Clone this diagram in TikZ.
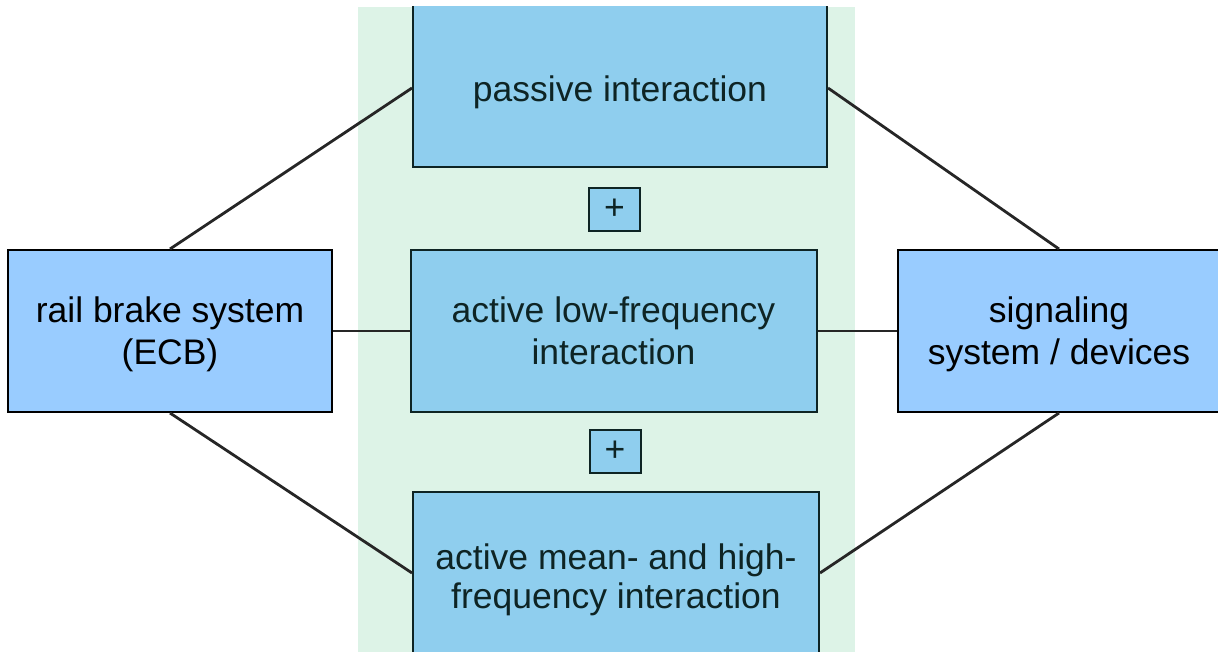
\documentclass[tikz,border=0pt]{standalone}
\usepackage{fontspec}
\setmainfont{Liberation Sans}
\usetikzlibrary{calc}
\definecolor{sidefill}{HTML}{99CCFF}
\definecolor{midfill}{HTML}{8FCEEE}
\definecolor{bandfill}{HTML}{DDF3E7}
\definecolor{midline}{HTML}{0E2424}
\begin{document}
\begin{tikzpicture}[x=1pt,y=-1pt,
  every node/.style={font=\fontsize{35.5}{42}\selectfont, align=center, inner sep=0pt},
  sidebox/.style={draw=black, line width=2pt, fill=sidefill, text=black, text depth=1.5pt},
  midbox/.style={draw=midline, line width=2pt, fill=midfill, text=midline},
  plusbox/.style={midbox, minimum width=51pt, minimum height=43pt},
  link/.style={draw=black!85, line width=2.8pt}]
\useasboundingbox (0,0) rectangle (1218,652);
\begin{scope}
  \clip (0,7) rectangle (1218,652);
  % shaded band behind the interaction column
  \fill[bandfill] (358,7) rectangle (855,652);

  % the two systems
  \node[sidebox, minimum width=324pt, minimum height=162pt] (brake) at (170,331)
    {rail brake system\\(ECB)};
  \node[sidebox, minimum width=322pt, minimum height=162pt] (signal) at (1059,331)
    {signaling\\system / devices};

  % kinds of interaction
  \node[midbox, minimum width=414pt, minimum height=169pt, text height=47pt, text depth=8pt]
    (passive) at (620,82.5) {passive interaction};
  \node[plusbox] (plusa) at (614.5,209.5) {+};
  \node[midbox, minimum width=406pt, minimum height=162pt] (lowfreq) at (613.5,331)
    {active low-frequency\\interaction};
  \node[plusbox] (plusb) at (615,451) {+};
  \node[midbox, minimum width=406pt, minimum height=175pt] (meanhigh) at (616,579.5)
    {active mean- and high-\\[-3pt]frequency interaction};

  % connections
  \draw[link] (brake.north) -- ($(passive.west)+(0,5.5)$);
  \draw[link] (brake.east) -- (lowfreq.west);
  \draw[link] (brake.south) -- ($(meanhigh.west)+(0,-6.5)$);
  \draw[link] ($(passive.east)+(0,5.5)$) -- (signal.north);
  \draw[link] (lowfreq.east) -- (signal.west);
  \draw[link] ($(meanhigh.east)+(0,-6.5)$) -- (signal.south);
\end{scope}
\end{tikzpicture}
\end{document}
